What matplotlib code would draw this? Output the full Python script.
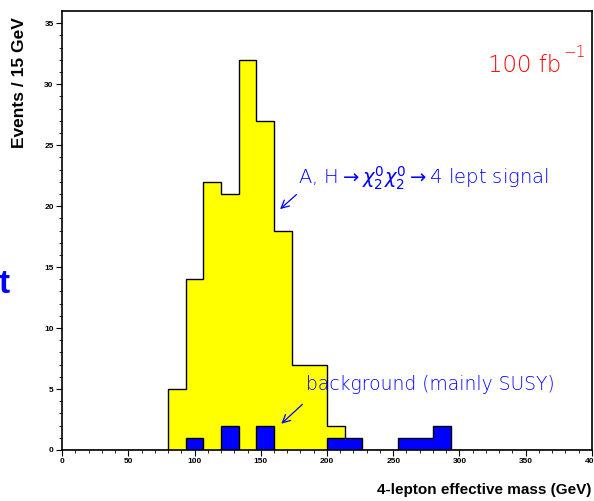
import numpy as np
import matplotlib
matplotlib.use("Agg")
import matplotlib.pyplot as plt

# 30 bins over 0-400 GeV
bin_edges = np.linspace(0, 400, 31)
signal = [0, 0, 0, 0, 0, 0, 5, 14, 22, 21, 32, 27, 18, 7, 7, 2,
          0, 0, 0, 0, 0, 0, 0, 0, 0, 0, 0, 0, 0, 0]
background = [0, 0, 0, 0, 0, 0, 0, 1, 0, 2, 0, 2, 0, 0, 0, 1,
              1, 0, 0, 1, 1, 2, 0, 0, 0, 0, 0, 0, 0, 0]
x_ticks = [0, 50, 100, 150, 200, 250, 300, 350, 400]
y_ticks = [0, 5, 10, 15, 20, 25, 30, 35]

fig = plt.figure(figsize=(5.94, 5.01), dpi=100)
ax = fig.add_axes([0.1044, 0.1018, 0.8922, 0.8762])

ax.stairs(signal, bin_edges, fill=True, facecolor="#FFFF00", edgecolor="none")
ax.stairs(signal, bin_edges, fill=False, color="black", linewidth=1.0)
bg_vals = np.array(background, dtype=float)
bg_masked = np.where(bg_vals > 0, bg_vals, np.nan)
ax.stairs(background, bin_edges, fill=True, facecolor="#0000FF", edgecolor="none")
ax.stairs(bg_masked, bin_edges, fill=False, color="black", linewidth=1.0)

ax.set_xlim(0, 400)
ax.set_ylim(0, 36)
ax.set_xticks(x_ticks)
ax.set_yticks(y_ticks)
ax.set_xticks(np.arange(0, 401, 10), minor=True)
ax.set_yticks(np.arange(0, 36, 1), minor=True)
ax.tick_params(which="major", direction="out", length=4, width=0.8, pad=2)
ax.tick_params(which="minor", direction="out", length=2, width=0.6)
for lab in ax.get_xticklabels() + ax.get_yticklabels():
    lab.set_fontsize(6)
    lab.set_fontweight("bold")
    lab.set_family("Liberation Sans")
for sp in ax.spines.values():
    sp.set_linewidth(1.2)

fig.text(0.032, 0.836, "Events / 15 GeV", rotation=90, ha="center", va="center",
         fontsize=12.5, fontweight="bold", family="Liberation Sans")
fig.text(0.996, 0.008, "4-lepton effective mass (GeV)", ha="right", va="bottom",
         fontsize=11, fontweight="bold", family="Liberation Sans")
fig.text(-0.002, 0.415, "t", ha="left", va="baseline", fontsize=24,
         fontweight="bold", color="#0000FF", family="Liberation Sans")

blue = "#0000FF"
ax.text(178, 21.8, r"A, H$\rightarrow\chi^0_2\chi^0_2\rightarrow$4 lept signal",
        color=blue, fontsize=14, fontweight="light", ha="left", va="baseline")
ax.annotate("", xy=(163, 19.6), xytext=(178.5, 21.1),
            arrowprops=dict(arrowstyle="->", color=blue, lw=0.9, mutation_scale=14))
ax.text(184.5, 4.9, "background (mainly SUSY)", color=blue, fontsize=13.5,
        fontweight="light", ha="left", va="baseline")
ax.annotate("", xy=(164, 2.0), xytext=(183, 3.9),
            arrowprops=dict(arrowstyle="->", color=blue, lw=0.9, mutation_scale=14))
ax.text(321.5, 31.0, "100 fb", color="#FF0000", fontsize=16.5,
        fontweight="light", ha="left", va="baseline")
ax.text(378.5, 32.2, "\u22121", color="#FF0000", fontsize=11,
        fontweight="light", ha="left", va="baseline")

fig.savefig("out.png", dpi=100)
